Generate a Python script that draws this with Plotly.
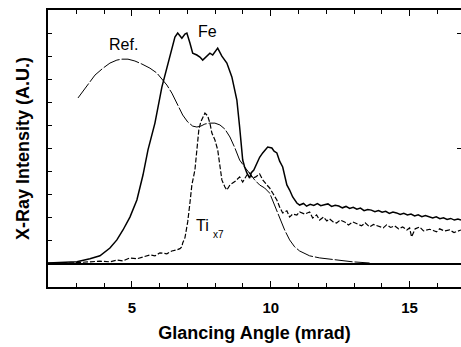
import plotly.graph_objects as go

# ---- data (glancing angle in mrad, intensity in arbitrary units) ----
fe_x = [1.98, 3.02, 3.49, 3.85, 4.21, 4.46, 4.68, 4.93, 5.18, 5.40, 5.58, 5.83, 6.08, 6.26,
        6.44, 6.55, 6.65, 6.73, 6.80, 6.91, 6.98, 7.09, 7.19, 7.34, 7.45, 7.55, 7.70, 7.81,
        7.91, 8.02, 8.09, 8.24, 8.42, 8.60, 8.78, 8.88, 8.99, 9.06, 9.14, 9.24, 9.30, 9.39,
        9.50, 9.60, 9.71, 9.80, 9.89, 10.04, 10.12, 10.22, 10.32, 10.43, 10.58, 10.68, 10.79,
        10.94, 11.04, 11.18, 11.29, 11.42, 11.55, 11.68, 11.80, 11.93, 12.06, 12.19, 12.32,
        12.45, 12.58, 12.71, 12.84, 12.97, 13.10, 13.23, 13.36, 13.49, 13.62, 13.75, 13.88,
        14.01, 14.14, 14.27, 14.40, 14.53, 14.66, 14.79, 14.92, 15.05, 15.18, 15.31, 15.44,
        15.57, 15.70, 15.83, 15.96, 16.09, 16.22, 16.35, 16.48, 16.61, 16.74, 16.85]
fe_y = [0.004, 0.009, 0.022, 0.035, 0.069, 0.104, 0.147, 0.203, 0.277, 0.385, 0.494, 0.610,
        0.766, 0.853, 0.939, 0.983, 1.000, 0.987, 0.978, 0.996, 1.000, 0.957, 0.913, 0.905,
        0.896, 0.883, 0.900, 0.913, 0.905, 0.926, 0.935, 0.900, 0.870, 0.810, 0.710, 0.593,
        0.450, 0.420, 0.394, 0.372, 0.395, 0.407, 0.437, 0.462, 0.481, 0.496, 0.506, 0.502,
        0.488, 0.481, 0.445, 0.420, 0.342, 0.320, 0.290, 0.264, 0.255, 0.262, 0.250, 0.258,
        0.253, 0.261, 0.252, 0.256, 0.260, 0.249, 0.254, 0.251, 0.243, 0.249, 0.240, 0.245,
        0.237, 0.242, 0.231, 0.236, 0.233, 0.226, 0.231, 0.224, 0.228, 0.219, 0.225, 0.221,
        0.214, 0.219, 0.212, 0.216, 0.208, 0.213, 0.205, 0.210, 0.203, 0.199, 0.204, 0.196,
        0.200, 0.193, 0.197, 0.190, 0.194, 0.190]

ti_x = [1.98, 2.77, 3.49, 3.85, 4.21, 4.46, 4.68, 4.93, 5.18, 5.40, 5.65, 5.83, 6.01, 6.26,
        6.44, 6.62, 6.73, 6.80, 6.83, 6.91, 7.01, 7.09, 7.16, 7.27, 7.34, 7.41, 7.48, 7.55,
        7.63, 7.73, 7.81, 7.88, 7.99, 8.09, 8.17, 8.24, 8.35, 8.42, 8.53, 8.63, 8.74, 8.88,
        8.99, 9.14, 9.24, 9.35, 9.46, 9.60, 9.71, 9.86, 9.96, 10.07, 10.22, 10.32, 10.43,
        10.58, 10.68, 10.79, 10.94, 11.04, 11.22, 11.40, 11.51, 11.65, 11.76, 11.90, 12.02,
        12.12, 12.25, 12.37, 12.50, 12.66, 12.80, 12.95, 13.10, 13.27, 13.40, 13.56, 13.70,
        13.92, 14.05, 14.17, 14.32, 14.46, 14.60, 14.75, 14.90, 15.00, 15.07, 15.20, 15.36,
        15.50, 15.72, 15.85, 15.97, 16.08, 16.25, 16.44, 16.60, 16.85]
ti_y = [0.004, 0.004, 0.009, 0.012, 0.009, 0.017, 0.013, 0.026, 0.022, 0.031, 0.039, 0.035,
        0.048, 0.044, 0.056, 0.061, 0.066, 0.074, 0.091, 0.113, 0.182, 0.264, 0.342, 0.407,
        0.481, 0.580, 0.615, 0.632, 0.654, 0.641, 0.610, 0.567, 0.537, 0.494, 0.420, 0.364,
        0.333, 0.320, 0.342, 0.351, 0.360, 0.377, 0.355, 0.385, 0.394, 0.372, 0.377, 0.390,
        0.364, 0.342, 0.329, 0.307, 0.277, 0.247, 0.221, 0.230, 0.203, 0.216, 0.212, 0.225,
        0.216, 0.225, 0.199, 0.212, 0.190, 0.203, 0.186, 0.195, 0.182, 0.177, 0.190, 0.182,
        0.169, 0.182, 0.173, 0.165, 0.178, 0.160, 0.171, 0.162, 0.156, 0.169, 0.158, 0.165,
        0.152, 0.160, 0.147, 0.156, 0.117, 0.152, 0.160, 0.143, 0.150, 0.145, 0.139, 0.152,
        0.143, 0.147, 0.136, 0.147]

ref_x = [3.06, 3.42, 3.67, 3.96, 4.21, 4.46, 4.64, 4.86, 5.11, 5.36, 5.65, 5.90, 6.08, 6.26,
         6.44, 6.62, 6.83, 7.01, 7.19, 7.34, 7.48, 7.63, 7.81, 7.99, 8.17, 8.35, 8.53, 8.71,
         8.88, 9.06, 9.24, 9.42, 9.60, 9.78, 9.96, 10.14, 10.32, 10.50, 10.68, 10.86, 11.04,
         11.40, 11.76, 12.37, 12.95, 13.56]
ref_y = [0.719, 0.779, 0.818, 0.848, 0.870, 0.883, 0.887, 0.887, 0.879, 0.866, 0.848, 0.827,
         0.801, 0.775, 0.740, 0.697, 0.645, 0.615, 0.597, 0.593, 0.597, 0.606, 0.610, 0.610,
         0.602, 0.584, 0.550, 0.502, 0.450, 0.420, 0.390, 0.364, 0.342, 0.329, 0.307, 0.255,
         0.199, 0.147, 0.104, 0.074, 0.056, 0.035, 0.026, 0.017, 0.009, 0.004]

x_tick_vals = [5, 10, 15]
x_tick_text = ["5", "10", "15"]
y_tick_vals = [0.1, 0.2, 0.3, 0.4, 0.5, 0.6, 0.7, 0.8, 0.9, 1.0]
y_right_ticks = [0.5, 1.0]

FONT = "Liberation Sans"

fig = go.Figure()
fig.add_trace(go.Scatter(x=ref_x, y=ref_y, mode="lines",
                         line=dict(color="black", width=1, dash="18px,2px"), showlegend=False))
fig.add_trace(go.Scatter(x=ti_x, y=ti_y, mode="lines",
                         line=dict(color="black", width=1.2, dash="5px,2px"), showlegend=False))
fig.add_trace(go.Scatter(x=fe_x, y=fe_y, mode="lines",
                         line=dict(color="black", width=1.5), showlegend=False))
fig.add_trace(go.Scatter(x=[None], y=[None], yaxis="y2", showlegend=False, hoverinfo="skip"))

ann_font = dict(family=FONT, size=16, color="black")
fig.add_annotation(x=4.71, y=0.952, text="Ref.", showarrow=False, font=ann_font)
fig.add_annotation(x=7.73, y=1.009, text="Fe", showarrow=False, font=ann_font)
fig.add_annotation(x=7.55, y=0.165, text="Ti", showarrow=False, font=ann_font)
fig.add_annotation(x=8.13, y=0.128, text="x7", showarrow=False,
                   font=dict(family=FONT, size=10, color="black"))

fig.update_layout(
    width=461, height=347,
    margin=dict(l=48, r=0, t=10, b=60),
    paper_bgcolor="white", plot_bgcolor="white",
    xaxis=dict(range=[1.98, 16.85], showline=True, linecolor="black", linewidth=1.5,
               mirror="ticks", ticks="inside", ticklen=6, tickwidth=1.2, tickcolor="black",
               tickvals=x_tick_vals, ticktext=x_tick_text, showgrid=False, zeroline=False,
               tickfont=dict(family=FONT, size=15, color="black", weight="bold"),
               ticklabelstandoff=6,
               minor=dict(dtick=1, tick0=0, ticks="inside", ticklen=4, tickcolor="black",
                          tickwidth=1, showgrid=False),
               title=dict(text="Glancing Angle (mrad)", standoff=12,
                          font=dict(family=FONT, size=18, color="black", weight="bold"))),
    yaxis=dict(range=[-0.1, 1.1], showline=True, linecolor="black", linewidth=1.5,
               mirror=False, ticks="inside", ticklen=4, tickwidth=1, tickcolor="black",
               tickvals=y_tick_vals, showticklabels=False, showgrid=False,
               zeroline=True, zerolinecolor="black", zerolinewidth=1.5,
               title=dict(text="X-Ray Intensity (A.U.)", standoff=12,
                          font=dict(family=FONT, size=18, color="black", weight="bold"))),
    yaxis2=dict(range=[-0.1, 1.1], overlaying="y", side="right", showline=False,
                ticks="inside", ticklen=4, tickcolor="black", tickvals=y_right_ticks,
                showticklabels=False, showgrid=False, zeroline=False),
)

fig.write_html("out.html")
